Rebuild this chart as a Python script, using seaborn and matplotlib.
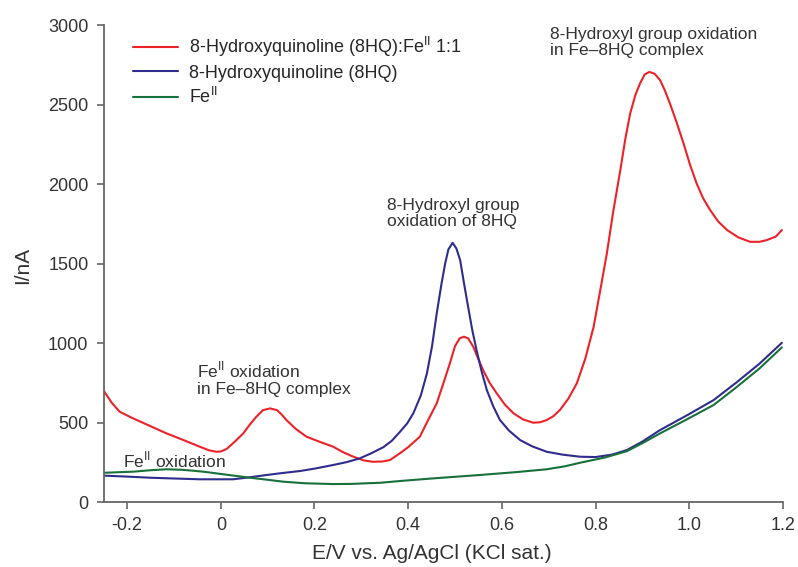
import pandas as pd
import numpy as np
import seaborn as sns
import matplotlib.pyplot as plt

# potentials (V) and currents (nA)
fe_hq_E = [-0.25, -0.233, -0.216, -0.19, -0.16, -0.116, -0.08, -0.045, -0.025, -0.009,
           0.0, 0.012, 0.03, 0.048, 0.062, 0.076, 0.09, 0.105, 0.12, 0.13,
           0.140, 0.16, 0.183, 0.21, 0.240, 0.26, 0.283, 0.305, 0.325, 0.345,
           0.361, 0.382, 0.40, 0.425, 0.440, 0.461, 0.475, 0.489, 0.500, 0.510,
           0.519, 0.528, 0.539, 0.549, 0.560, 0.574, 0.589, 0.606, 0.625, 0.645,
           0.667, 0.682, 0.696, 0.710, 0.724, 0.742, 0.760, 0.778, 0.796, 0.81,
           0.824, 0.838, 0.853, 0.864, 0.874, 0.885, 0.895, 0.905, 0.915, 0.926,
           0.938, 0.948, 0.959, 0.973, 0.988, 1.002, 1.016, 1.030, 1.045, 1.062,
           1.081, 1.105, 1.130, 1.150, 1.166, 1.185, 1.198]
fe_hq_I = [700, 625, 568, 530, 490, 432, 390, 348, 325, 316,
           318, 333, 380, 432, 488, 537, 578, 589, 578, 550,
           516, 460, 411, 380, 348, 315, 285, 262, 253, 255,
           264, 306, 345, 411, 500, 621, 745, 872, 980, 1030,
           1040, 1030, 977, 905, 830, 750, 684, 615, 558, 520,
           499, 502, 516, 540, 579, 650, 746, 900, 1102, 1330,
           1560, 1830, 2088, 2290, 2444, 2560, 2633, 2690, 2706, 2695,
           2654, 2590, 2507, 2390, 2256, 2120, 2004, 1910, 1836, 1765,
           1711, 1665, 1637, 1637, 1648, 1670, 1711]

hq_E = [-0.25, -0.2, -0.152, -0.1, -0.045, 0.026, 0.06, 0.098, 0.13, 0.169,
        0.2, 0.240, 0.27, 0.297, 0.32, 0.347, 0.365, 0.382, 0.398, 0.411,
        0.427, 0.440, 0.451, 0.461, 0.471, 0.479, 0.486, 0.495, 0.503, 0.511,
        0.519, 0.528, 0.537, 0.546, 0.557, 0.568, 0.582, 0.596, 0.615, 0.639,
        0.665, 0.696, 0.73, 0.767, 0.80, 0.835, 0.867, 0.90, 0.938, 0.995,
        1.052, 1.10, 1.15, 1.198]
hq_I = [166, 160, 153, 148, 143, 143, 155, 170, 182, 195,
        210, 233, 252, 275, 305, 345, 385, 440, 495, 558,
        670, 809, 980, 1187, 1370, 1501, 1590, 1631, 1595, 1522,
        1380, 1228, 1080, 956, 820, 704, 600, 516, 450, 390,
        350, 316, 298, 285, 283, 298, 327, 380, 453, 545,
        641, 750, 870, 1002]

fe_E = [-0.25, -0.187, -0.15, -0.116, -0.085, -0.059, -0.035, -0.009, 0.03, 0.062,
        0.10, 0.133, 0.18, 0.240, 0.28, 0.311, 0.34, 0.382, 0.45, 0.553,
        0.63, 0.696, 0.735, 0.767, 0.82, 0.867, 0.90, 0.938, 0.995, 1.052,
        1.10, 1.15, 1.198]
fe_I = [184, 191, 200, 206, 203, 197, 190, 180, 165, 153,
        140, 128, 118, 113, 114, 118, 121, 132, 148, 170,
        188, 206, 225, 247, 280, 320, 370, 432, 520, 610,
        720, 840, 973]

labels = ["8-Hydroxyquinoline (8HQ):Fe$^{\\mathrm{II}}$ 1:1",
          "8-Hydroxyquinoline (8HQ)",
          "Fe$^{\\mathrm{II}}$"]
colors = ["#ec2228", "#2e2c8c", "#18703a"]

df = pd.concat([
    pd.DataFrame({"E": fe_hq_E, "I": fe_hq_I, "sample": labels[0]}),
    pd.DataFrame({"E": hq_E, "I": hq_I, "sample": labels[1]}),
    pd.DataFrame({"E": fe_E, "I": fe_I, "sample": labels[2]}),
])

sns.set_style("ticks")
plt.rcParams['font.family'] = ['Liberation Sans', 'DejaVu Sans']
plt.rcParams['mathtext.fontset'] = 'custom'
plt.rcParams['mathtext.rm'] = 'Liberation Sans'

fig = plt.figure(figsize=(7.98, 5.67), dpi=100)
ax = fig.add_axes([0.130, 0.1146, 0.851, 0.841])

sns.lineplot(data=df, x="E", y="I", hue="sample", hue_order=labels,
             palette=dict(zip(labels, colors)), sort=False, estimator=None,
             linewidth=1.5, ax=ax)

ax.set_xlim(-0.25, 1.2)
ax.set_ylim(0, 3000)
ax.set_xticks(np.arange(-0.2, 1.21, 0.2))
ax.set_xticklabels(["-0.2", "0", "0.2", "0.4", "0.6", "0.8", "1.0", "1.2"])
ax.set_yticks(range(0, 3001, 500))

sns.despine(ax=ax)
for s in ["left", "bottom"]:
    ax.spines[s].set_color("#666666")
    ax.spines[s].set_linewidth(1.3)
ax.tick_params(direction="out", length=5, width=1.2, color="#666666",
               labelsize=13, labelcolor="#333333", pad=6)

ax.set_xlabel("E/V vs. Ag/AgCl (KCl sat.)", fontsize=15, color="#333333", va="center")
ax.xaxis.set_label_coords(0.483, -0.108)
ax.set_ylabel("I/nA", fontsize=15, color="#333333", va="center")
ax.yaxis.set_label_coords(-0.119, 0.497)

ax.legend(loc="upper left", bbox_to_anchor=(0.043, 0.979), frameon=False,
          fontsize=13, handlelength=2.5, handletextpad=0.6, labelspacing=0.3,
          borderpad=0, borderaxespad=0)

txt = dict(fontsize=12.5, color="#333333", linespacing=1.1)
ax.text(0.703, 2987, "8-Hydroxyl group oxidation\nin Fe\u20138HQ complex", va="top", **txt)
ax.text(0.355, 1912, "8-Hydroxyl group\noxidation of 8HQ", va="top", **txt)
ax.text(-0.051, 893, "Fe$^{\\mathrm{II}}$ oxidation\nin Fe\u20138HQ complex", va="top", **txt)
ax.text(-0.209, 220, "Fe$^{\\mathrm{II}}$ oxidation", va="baseline", **txt)

fig.savefig("out.png", dpi=100)
